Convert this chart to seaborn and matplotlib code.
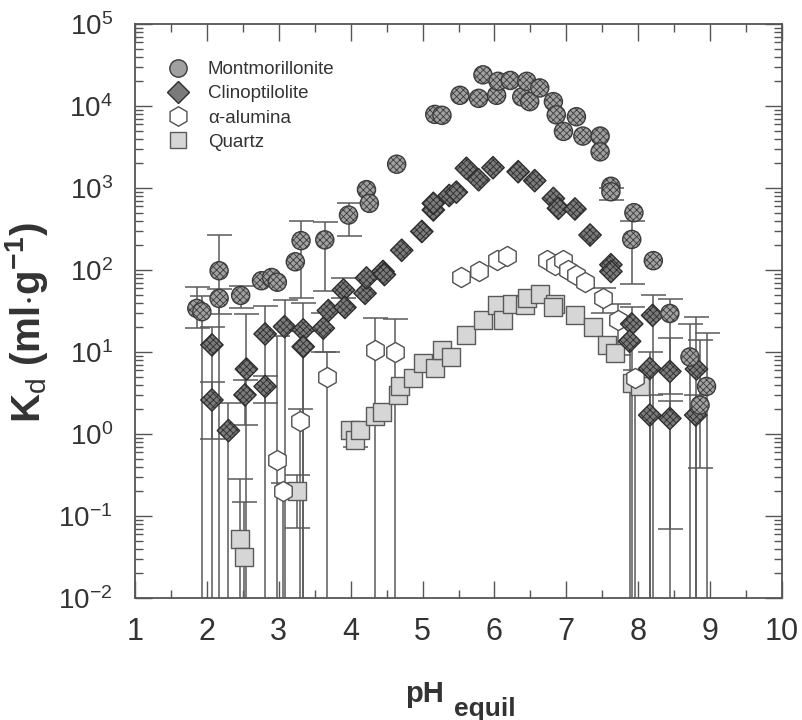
import numpy as np
import pandas as pd
import matplotlib
matplotlib.use("Agg")
import matplotlib.pyplot as plt
import seaborn as sns
from matplotlib.ticker import LogLocator, FixedLocator, MultipleLocator, FuncFormatter
from matplotlib.lines import Line2D

# ---------------- data ----------------
mont_x = [1.86, 1.93, 2.17, 2.17, 2.47, 2.76, 2.90, 2.98, 3.23, 3.31, 3.64, 3.97, 4.22, 4.26,
          4.64, 5.17, 5.27, 5.52, 5.78, 5.84, 6.03, 6.05, 6.22, 6.38, 6.45, 6.49, 6.63, 6.82,
          6.86, 6.96, 7.14, 7.23, 7.47, 7.47, 7.62, 7.62, 7.94, 7.91, 8.21, 8.44, 8.72, 8.95, 8.86]
mont_y = [34, 31, 98, 45, 49, 74, 81, 71, 126, 228, 233, 468, 955, 650,
          1950, 7900, 7700, 13500, 12400, 24000, 13500, 20000, 20500, 12900, 20000, 11300, 16600, 11300,
          7800, 4900, 7400, 4300, 4300, 2760, 1050, 900, 500, 236, 130, 29.5, 8.7, 3.8, 2.25]
mont_err_x = [1.86, 1.93, 2.17, 2.17, 2.47, 3.31, 3.64, 3.97, 7.62, 7.91, 8.44, 8.72, 8.95, 8.86]
mont_err_lo = [19.6, 1e-3, 1e-3, 29, 34, 46, 55, 260, 720, 67, 1e-3, 1e-3, 1e-3, 0.39]
mont_err_hi = [62, 48, 265, 58, 63, 400, 380, 660, 1000, 400, 44, 22, 17, 14]

clin_x = [2.07, 2.07, 2.30, 2.55, 2.53, 2.81, 2.81, 3.08, 3.34, 3.34, 3.62, 3.69, 3.90, 3.92,
          4.20, 4.22, 4.45, 4.47, 4.71, 4.99, 5.15, 5.15, 5.37, 5.47, 5.61, 5.78, 5.98, 6.33,
          6.56, 6.82, 6.89, 7.12, 7.33, 7.62, 7.62, 7.91, 7.88, 8.20, 8.16, 8.16, 8.44, 8.44,
          8.81, 8.80]
clin_y = [12.2, 2.6, 1.1, 6.2, 3.0, 16.6, 3.8, 20.4, 18.6, 11.6, 19.5, 32, 57, 35,
          52, 80, 96, 88, 174, 295, 540, 650, 810, 890, 1740, 1260, 1770, 1580,
          1230, 745, 565, 555, 267, 116, 96, 22, 13.5, 28, 6.3, 1.7, 5.8, 1.55,
          6.2, 1.7]
clin_err_x = [2.07, 2.07, 2.30, 2.55, 2.53, 2.81, 2.81, 3.08, 3.34, 3.34, 3.62, 3.90,
              7.91, 7.88, 8.20, 8.16, 8.16, 8.44, 8.44, 8.81, 8.80]
clin_err_lo = [1e-3, 0.87, 1e-3, 1e-3, 1.3, 1e-3, 2.4, 1e-3, 1e-3, 1e-3, 10, 45,
               1e-3, 1e-3, 1e-3, 1e-3, 1e-3, 3.1, 0.069, 1e-3, 1e-3]
clin_err_hi = [20, 4.3, 2.4, 29, 4.6, 36, 5.1, 43, 40, 18, 30, 80,
               35.5, 22, 50, 10, 3, 14.7, 2.5, 27, 3]

alum_x = [2.97, 3.06, 3.29, 3.67, 4.34, 4.61, 5.54, 5.78, 6.03, 6.18, 6.73, 6.84, 6.96,
          7.03, 7.14, 7.26, 7.51, 7.72, 7.95]
alum_y = [0.48, 0.2, 1.45, 5.0, 10.5, 10, 83, 96, 131, 148, 131, 114, 131,
          100, 87, 72, 45, 24.5, 4.8]
alum_err_x = [2.97, 3.06, 3.29, 3.67, 4.34, 4.61, 7.51, 7.72, 7.95]
alum_err_lo = [1e-3, 1e-3, 1e-3, 1e-3, 1e-3, 1e-3, 29.5, 9.1, 1e-3]
alum_err_hi = [15.5, 0.25, 2, 10, 25.7, 25, 60, 39, 6]

quartz_x = [2.46, 2.51, 3.25, 3.99, 4.06, 4.13, 4.34, 4.43, 4.66, 4.69, 4.87, 5.01, 5.17,
            5.27, 5.40, 5.61, 5.84, 6.03, 6.12, 6.24, 6.43, 6.45, 6.63, 6.84, 6.82, 7.12,
            7.37, 7.56, 7.68, 7.91, 8.02]
quartz_y = [0.052, 0.032, 0.2, 1.12, 0.85, 1.12, 1.66, 1.87, 3.0, 3.8, 4.8, 7.3, 6.3,
            10.5, 8.7, 15.9, 24.5, 37, 24.5, 39, 37, 45, 51, 39, 35, 28,
            20.4, 12.3, 9.6, 4.2, 3.8]
quartz_err_x = [2.46, 2.51, 3.25, 4.06]
quartz_err_lo = [1e-3, 1e-3, 0.072, 0.69]
quartz_err_hi = [0.28, 0.15, 0.32, 1.4]

series_names = ["Montmorillonite", "Clinoptilolite", "\u03b1-alumina", "Quartz"]
x_ticks = [1, 2, 3, 4, 5, 6, 7, 8, 9, 10]

# ---------------- style ----------------
sns.set_style("ticks")
plt.rcParams["font.family"] = ["Liberation Sans", "DejaVu Sans"]
plt.rcParams["mathtext.fontset"] = "custom"
plt.rcParams["mathtext.rm"] = "Liberation Sans"
plt.rcParams["mathtext.it"] = "Liberation Sans:italic"
plt.rcParams["mathtext.bf"] = "Liberation Sans:bold"
plt.rcParams["hatch.linewidth"] = 0.6
plt.rcParams["hatch.color"] = "#3a3a3a"

fig = plt.figure(figsize=(8.02, 7.20), dpi=100)
ax = fig.add_axes([135 / 802, 1 - 598 / 720, (782 - 135) / 802, (598 - 24) / 720])

spine_col = "#555555"
err_col = "#5a5a5a"
text_col = "#333333"

styles = {
    "Montmorillonite": dict(marker="o", s=170, color="#a0a0a0", edgecolor="#3c3c3c", hatch="xxxxx"),
    "Clinoptilolite": dict(marker="D", s=130, color="#7a7a7a", edgecolor="#2e2e2e", hatch="xxxxx"),
    "\u03b1-alumina": dict(marker="h", s=210, color="white", edgecolor="#505050", hatch=None),
    "Quartz": dict(marker="s", s=160, color="#d6d6d6", edgecolor="#5a5a5a", hatch=None),
}


def draw_err(xs, lo, hi, px, py):
    ys = []
    for xv, l, h in zip(xs, lo, hi):
        cands = [y for x, y in zip(px, py) if abs(x - xv) < 1e-9 and l <= y <= h]
        ys.append(cands[0] if cands else np.sqrt(l * h))
    ys = np.array(ys)
    ax.errorbar(xs, ys, yerr=[ys - np.array(lo), np.array(hi) - ys], fmt="none",
                ecolor=err_col, elinewidth=1.1, capsize=9, capthick=1.1, zorder=1)


draw_err(quartz_err_x, quartz_err_lo, quartz_err_hi, quartz_x, quartz_y)
draw_err(alum_err_x, alum_err_lo, alum_err_hi, alum_x, alum_y)
draw_err(clin_err_x, clin_err_lo, clin_err_hi, clin_x, clin_y)
draw_err(mont_err_x, mont_err_lo, mont_err_hi, mont_x, mont_y)

data_sets = [
    ("Quartz", quartz_x, quartz_y),
    ("\u03b1-alumina", alum_x, alum_y),
    ("Clinoptilolite", clin_x, clin_y),
    ("Montmorillonite", mont_x, mont_y),
]
for z, (name, xs, ys) in enumerate(data_sets):
    df = pd.DataFrame({"pH": xs, "Kd": ys})
    st = styles[name]
    kw = {}
    if st["hatch"]:
        kw["hatch"] = st["hatch"]
    sns.scatterplot(data=df, x="pH", y="Kd", ax=ax, marker=st["marker"], s=st["s"],
                    color=st["color"], edgecolor=st["edgecolor"], linewidth=1.0,
                    zorder=3 + z, legend=False, **kw)

ax.set_yscale("log")
ax.set_xlim(1, 10)
ax.set_ylim(1e-2, 1e5)

# ticks
ax.xaxis.set_major_locator(FixedLocator(x_ticks))
ax.xaxis.set_minor_locator(MultipleLocator(0.5))
ax.yaxis.set_major_locator(LogLocator(base=10, numticks=20))
ax.yaxis.set_minor_locator(LogLocator(base=10, subs=np.arange(2, 10), numticks=100))
ax.yaxis.set_major_formatter(FuncFormatter(lambda v, p: r"$\mathregular{10^{%d}}$" % round(np.log10(v))))
ax.tick_params(which="both", direction="in", top=True, right=True, color=spine_col, width=1.0)
ax.tick_params(which="major", length=12)
ax.tick_params(which="minor", length=6)
ax.tick_params(axis="x", which="major", labelsize=22, pad=14, labelcolor=text_col)
ax.tick_params(axis="y", which="major", labelsize=20, pad=16, labelcolor=text_col)
for sp in ax.spines.values():
    sp.set_color(spine_col)
    sp.set_linewidth(1.3)

# axis labels
ax.set_xlabel("pH", fontsize=21, fontweight="bold", color=text_col)
ax.xaxis.label.set_ha("left")
ax.xaxis.label.set_va("baseline")
ax.xaxis.set_label_coords((405 - 135) / 647, (598 - 702) / 574)
fig.text(454 / 802, 1 - 716 / 720, "equil", fontsize=19, fontweight="bold",
         color=text_col, ha="left", va="baseline")

ax.set_ylabel(r"$\mathbf{K}_{\mathrm{d}}\ \mathbf{(ml{\cdot}g^{-1})}$", fontsize=29, color=text_col)
ax.yaxis.label.set_va("center")
ax.yaxis.label.set_ha("center")
ax.yaxis.set_label_coords((27 - 135) / 647, (598 - 323) / 574)

# legend
handles = [
    Line2D([], [], ls="none", marker="o", markersize=12.5, markerfacecolor="#a0a0a0", markeredgecolor="#3c3c3c"),
    Line2D([], [], ls="none", marker="D", markersize=11, markerfacecolor="#7a7a7a", markeredgecolor="#2e2e2e"),
    Line2D([], [], ls="none", marker="h", markersize=14, markerfacecolor="white", markeredgecolor="#505050"),
    Line2D([], [], ls="none", marker="s", markersize=11.5, markerfacecolor="#d6d6d6", markeredgecolor="#5a5a5a"),
]
ax.legend(handles, series_names, loc="upper left", bbox_to_anchor=(0.02, 0.955), frameon=False,
          fontsize=13.5, handletextpad=0.6, labelspacing=0.38, borderaxespad=0.2,
          labelcolor=text_col)

fig.savefig("out.png", dpi=100)
